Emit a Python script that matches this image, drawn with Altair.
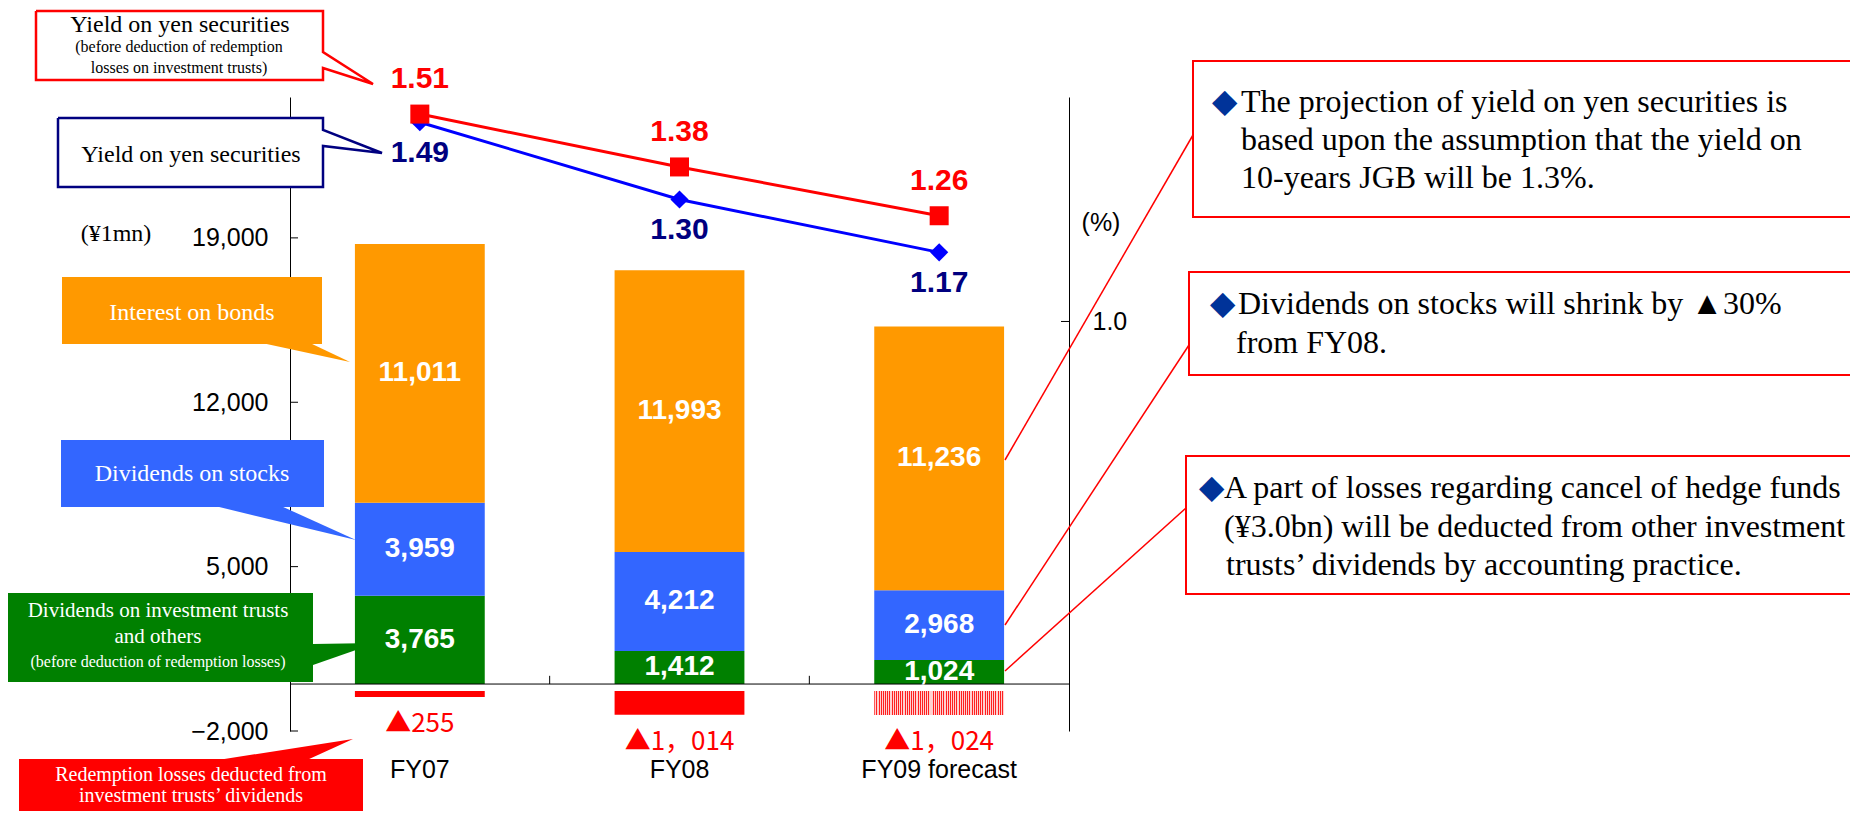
import altair as alt
import pandas as pd

# ---------------- data ----------------
cats = ["FY07", "FY08", "FY09 forecast"]
interest_on_bonds = [11011, 11993, 11236]
dividends_on_stocks = [3959, 4212, 2968]
dividends_on_trusts = [3765, 1412, 1024]
redemption_losses = [-255, -1014, -1024]
yield_before = [1.51, 1.38, 1.26]
yield_after = [1.49, 1.30, 1.17]
left_ticks = [-2000, 5000, 12000, 19000]
right_ticks = [1.0]

series_names = ["Dividends on investment trusts and others", "Dividends on stocks", "Interest on bonds"]
series_colors = ["#008000", "#3366ff", "#ff9900"]

bars_df = pd.DataFrame([
    {"cat": c, "series": s, "value": v, "order": k}
    for k, (s, vals) in enumerate(zip(series_names, [dividends_on_trusts, dividends_on_stocks, interest_on_bonds]))
    for c, v in zip(cats, vals)
])
neg_df = pd.DataFrame({
    "cat": cats,
    "value": redemption_losses,
    "label": ["▲" + f"{abs(v):,}".replace(",", "，") for v in redemption_losses],
})
before_df = pd.DataFrame({"cat": cats, "v": yield_before})
after_df = pd.DataFrame({"cat": cats, "v": yield_after})

# ---------------- layout (annotation geometry, page pixels) ----------------
W, H = 779, 634
OX, OY = 290, 97


def px(v):
    return v - OX


def py(v):
    return v - OY


rects = [
    (36, 323, 11, 80, "#ffffff", "transparent"),
    (58, 323, 118, 187, "#ffffff", "transparent"),
    (62, 322, 277, 344, "#ff9900", "transparent"),
    (61, 324, 440, 507, "#3366ff", "transparent"),
    (3, 313, 593, 682, "#008000", "transparent"),
    (19, 363, 759, 850, "#ff0000", "transparent"),
    (1193, 1900, 61, 217, "#ffffff", "#ff0000"),
    (1189, 1900, 272, 375, "#ffffff", "#ff0000"),
    (1186, 1900, 456, 594, "#ffffff", "#ff0000"),
]
rects_df = pd.DataFrame([
    {"x": px(a), "x2": px(b), "y": py(c), "y2": py(d), "fill": f, "stroke": s}
    for a, b, c, d, f, s in rects
])

outlines = {
    "red": ("#ff0000", [(36, 11), (323, 11), (323, 52), (373, 84), (323, 68), (323, 80), (36, 80), (36, 11)]),
    "navy": ("#000080", [(58, 118), (323, 118), (323, 130), (382, 153), (323, 146), (323, 187), (58, 187), (58, 118)]),
}
outline_df = pd.DataFrame([
    {"id": k, "o": i, "x": px(x), "y": py(y), "color": col}
    for k, (col, pts) in outlines.items() for i, (x, y) in enumerate(pts)
])

wedge_h = [
    ("orange", "#ff9900", [(343, 262, 310), (362, 350, 350)]),
    ("blue", "#3366ff", [(506, 215, 281), (540, 356, 356)]),
    ("red", "#ff0000", [(739, 353, 353), (760, 218, 307)]),
]
wedge_h_df = pd.DataFrame([
    {"id": k, "fill": f, "y": py(y), "x": px(a), "x2": px(b)}
    for k, f, pts in wedge_h for (y, a, b) in pts
])
wedge_v_df = pd.DataFrame([
    {"id": "green", "fill": "#008000", "x": px(313), "y": py(644), "y2": py(665)},
    {"id": "green", "fill": "#008000", "x": px(376), "y": py(643), "y2": py(643)},
])

connectors_df = pd.DataFrame([
    {"x": px(1193), "y": py(135), "x2": px(1005), "y2": py(460)},
    {"x": px(1189), "y": py(345), "x2": px(1005), "y2": py(625)},
    {"x": px(1186), "y": py(508), "x2": px(1005), "y2": py(671)},
])

serif_center = [
    (180, 32, "Yield on yen securities", 24, "#000000"),
    (179, 52, "(before deduction of redemption", 16, "#000000"),
    (179, 73, "losses on investment trusts)", 16, "#000000"),
    (191, 162, "Yield on yen securities", 24, "#000000"),
    (192, 320, "Interest on bonds", 24, "#ffffff"),
    (192, 481, "Dividends on stocks", 24, "#ffffff"),
    (158, 617, "Dividends on investment trusts", 21, "#ffffff"),
    (158, 643, "and  others", 21, "#ffffff"),
    (158, 667, "(before deduction of redemption losses)", 16, "#ffffff"),
    (191, 781, "Redemption losses deducted from", 20, "#ffffff"),
    (191, 802, "investment trusts’ dividends", 20, "#ffffff"),
    (116, 241, "(¥1mn)", 24, "#000000"),
]
serif_center_df = pd.DataFrame([
    {"x": px(x), "y": py(y), "text": t, "size": s, "color": c} for x, y, t, s, c in serif_center
])

serif_left = [
    (1241, 112, "The projection of yield on yen securities is"),
    (1241, 150, "based upon the assumption that the yield on"),
    (1241, 188, "10-years JGB will be 1.3%."),
    (1238, 314, "Dividends on stocks will shrink by ▲30%"),
    (1236, 353, "from FY08."),
    (1224, 498, "A part of losses regarding cancel of hedge funds"),
    (1224, 537, "(¥3.0bn) will be deducted from other investment"),
    (1226, 575, "trusts’ dividends by accounting practice."),
]
serif_left_df = pd.DataFrame([{"x": px(x), "y": py(y), "text": t} for x, y, t in serif_left])
diamond_df = pd.DataFrame([{"x": px(x), "y": py(y), "text": "◆"} for x, y in [(1212, 112), (1210, 314), (1199, 498)]])
unit_df = pd.DataFrame([{"x": px(1101), "y": py(231), "text": "(%)"}])

# ---------------- scales / axes ----------------
xscale = alt.Scale(domain=cats, paddingInner=0, paddingOuter=0)
xaxis = alt.Axis(ticks=False, domain=False, labelFontSize=25, labelPadding=26, labelAngle=0,
                 labelFont="Liberation Sans", labelColor="black", title=None, grid=False)
lscale = alt.Scale(domain=[-2000, 25000], nice=False, zero=False)
laxis = alt.Axis(values=left_ticks, format=",d", ticks=False, domain=True, domainColor="black",
                 grid=False, labelFontSize=25, labelPadding=22, labelFont="Liberation Sans",
                 labelColor="black", title=None)
rscale = alt.Scale(domain=[-0.007, 1.552], nice=False, zero=False)
raxis = alt.Axis(orient="right", values=right_ticks, format=".1f", ticks=False, domain=True,
                 domainColor="black", grid=False, labelFontSize=25, labelPadding=23,
                 labelFont="Liberation Sans", labelColor="black", title=None)

X = alt.X("cat:N", scale=xscale, axis=xaxis, title=None)


def LY(f, **kw):
    return alt.Y(f, scale=lscale, axis=laxis, title=None, **kw)


def RY(f):
    return alt.Y(f, scale=rscale, axis=raxis, title=None)


def PX(f):
    return alt.X(f, type="quantitative", scale=None, axis=None)


def PY(f):
    return alt.Y(f, type="quantitative", scale=None, axis=None)


BAR_W = alt.RelativeBandSize(0.5)

# ---------------- annotation layers ----------------
rects_layer = alt.Chart(rects_df).mark_rect(strokeWidth=2).encode(
    x=PX("x"), x2="x2:Q", y=PY("y"), y2="y2:Q",
    fill=alt.Fill("fill:N", scale=None, legend=None),
    stroke=alt.Stroke("stroke:N", scale=None, legend=None),
)
wedge_h_layer = alt.Chart(wedge_h_df).mark_area(orient="horizontal", opacity=1).encode(
    y=PY("y"), x=PX("x"), x2="x2:Q", detail="id:N",
    color=alt.Color("fill:N", scale=None, legend=None),
)
wedge_v_layer = alt.Chart(wedge_v_df).mark_area(orient="vertical", opacity=1).encode(
    x=PX("x"), y=PY("y"), y2="y2:Q", detail="id:N",
    color=alt.Color("fill:N", scale=None, legend=None),
)
outline_layer = alt.Chart(outline_df).mark_line(strokeWidth=2.5).encode(
    x=PX("x"), y=PY("y"), detail="id:N", order="o:Q",
    color=alt.Color("color:N", scale=None, legend=None),
)
connector_layer = alt.Chart(connectors_df).mark_rule(color="#ff0000", strokeWidth=1.5).encode(
    x=PX("x"), y=PY("y"), x2="x2:Q", y2="y2:Q",
)

# ---------------- bars (left axis) ----------------
bars = alt.Chart(bars_df).mark_bar(width=BAR_W, opacity=1).encode(
    x=X,
    y=LY("value:Q", stack="zero"),
    color=alt.Color("series:N", scale=alt.Scale(domain=series_names, range=series_colors), legend=None),
    order=alt.Order("order:Q", sort="ascending"),
)
bar_labels = alt.Chart(bars_df).transform_window(
    cum="sum(value)", groupby=["cat"], sort=[alt.SortField("order")]
).transform_calculate(mid="datum.cum - datum.value / 2").mark_text(
    font="Liberation Sans", fontWeight="bold", fontSize=28, color="white", baseline="middle"
).encode(x=X, y=LY("mid:Q"), text=alt.Text("value:Q", format=",d"))

stops = []
n_stripes = 60
for i in range(n_stripes):
    a, b, c = i / n_stripes, (i + 0.45) / n_stripes, (i + 1) / n_stripes
    stops += [alt.GradientStop(offset=a, color="#ff2020"), alt.GradientStop(offset=b, color="#ff2020"),
              alt.GradientStop(offset=b, color="#ffd0d0"), alt.GradientStop(offset=c, color="#ffd0d0")]
hatch = alt.LinearGradient(gradient="linear", stops=stops, x1=0, x2=1, y1=0, y2=0)

neg_solid = alt.Chart(neg_df).transform_filter(alt.datum.cat != cats[2]).mark_bar(
    width=BAR_W, color="#ff0000", opacity=1, yOffset=7, y2Offset=7
).encode(x=X, y=LY("value:Q"))
neg_hatch = alt.Chart(neg_df).transform_filter(alt.datum.cat == cats[2]).mark_bar(
    width=BAR_W, fill=hatch, opacity=1, yOffset=7, y2Offset=7
).encode(x=X, y=LY("value:Q"))
neg_labels = alt.Chart(neg_df).mark_text(
    font="Noto Sans CJK JP", fontSize=26, color="#ff0000", dy=34, baseline="middle"
).encode(x=X, y=LY("value:Q"), text="label:N")

zero_line = alt.Chart(pd.DataFrame({"v": [0]})).mark_rule(color="black", strokeWidth=1).encode(
    y=LY("v:Q"), x=alt.value(0), x2=alt.value(W)
)
left_tick_layer = alt.Chart(pd.DataFrame({"t": left_ticks})).mark_rule(color="black").encode(
    y=LY("t:Q"), x=alt.value(0), x2=alt.value(8)
)
x_tick_layer = alt.Chart(pd.DataFrame({"cat": cats[1:]})).mark_rule(color="black").encode(
    x=alt.X("cat:N", scale=xscale, axis=xaxis, title=None, bandPosition=0),
    y=alt.datum(0), y2=alt.datum(350),
)

bars_group = alt.layer(bars, neg_solid, neg_hatch, zero_line, left_tick_layer, x_tick_layer,
                       bar_labels, neg_labels)

# ---------------- yield lines (right axis) ----------------
after_line = alt.Chart(after_df).mark_line(color="#0000ff", strokeWidth=3).encode(x=X, y=RY("v:Q"))
after_pts = alt.Chart(after_df).mark_point(shape="diamond", filled=True, size=330, color="#0000ff",
                                           opacity=1).encode(x=X, y=RY("v:Q"))
before_line = alt.Chart(before_df).mark_line(color="#ff0000", strokeWidth=3).encode(x=X, y=RY("v:Q"))
before_pts = alt.Chart(before_df).mark_point(shape="square", filled=True, size=361, color="#ff0000",
                                             opacity=1).encode(x=X, y=RY("v:Q"))
before_lbl = alt.Chart(before_df).mark_text(font="Liberation Sans", fontWeight="bold", fontSize=30,
                                            color="#ff0000", dy=-35, baseline="middle").encode(
    x=X, y=RY("v:Q"), text=alt.Text("v:Q", format=".2f"))
after_lbl = alt.Chart(after_df).mark_text(font="Liberation Sans", fontWeight="bold", fontSize=30,
                                          color="#000080", dy=31, baseline="middle").encode(
    x=X, y=RY("v:Q"), text=alt.Text("v:Q", format=".2f"))
right_tick_layer = alt.Chart(pd.DataFrame({"t": right_ticks})).mark_rule(color="black").encode(
    y=RY("t:Q"), x=alt.value(W - 8), x2=alt.value(W)
)
lines_group = alt.layer(after_line, after_pts, before_line, before_pts, right_tick_layer,
                        before_lbl, after_lbl)

# ---------------- annotation text ----------------
serif_c_layer = alt.Chart(serif_center_df).mark_text(
    font="Liberation Serif", align="center", baseline="alphabetic"
).encode(x=PX("x"), y=PY("y"), text="text:N",
         size=alt.Size("size:Q", scale=None, legend=None),
         color=alt.Color("color:N", scale=None, legend=None))
serif_l_layer = alt.Chart(serif_left_df).mark_text(
    font="Liberation Serif", align="left", baseline="alphabetic", fontSize=32, color="black"
).encode(x=PX("x"), y=PY("y"), text="text:N")
diamond_layer = alt.Chart(diamond_df).mark_text(
    font="DejaVu Sans", align="left", baseline="alphabetic", fontSize=33, color="#003399"
).encode(x=PX("x"), y=PY("y"), text="text:N")
unit_layer = alt.Chart(unit_df).mark_text(
    font="Liberation Sans", align="center", baseline="alphabetic", fontSize=25, color="black"
).encode(x=PX("x"), y=PY("y"), text="text:N")

chart = alt.layer(
    rects_layer, wedge_h_layer, wedge_v_layer, outline_layer, connector_layer,
    bars_group, lines_group,
    serif_c_layer, serif_l_layer, diamond_layer, unit_layer,
).resolve_scale(y="independent").properties(
    width=W, height=H,
    autosize=alt.AutoSizeParams(type="none"),
    padding={"left": 282, "top": 89, "right": 781, "bottom": 80},
).configure_view(stroke="transparent").configure_axis(domainColor="black", domainWidth=1)

chart.save("out.html", embed_options={"renderer": "svg", "actions": False})
